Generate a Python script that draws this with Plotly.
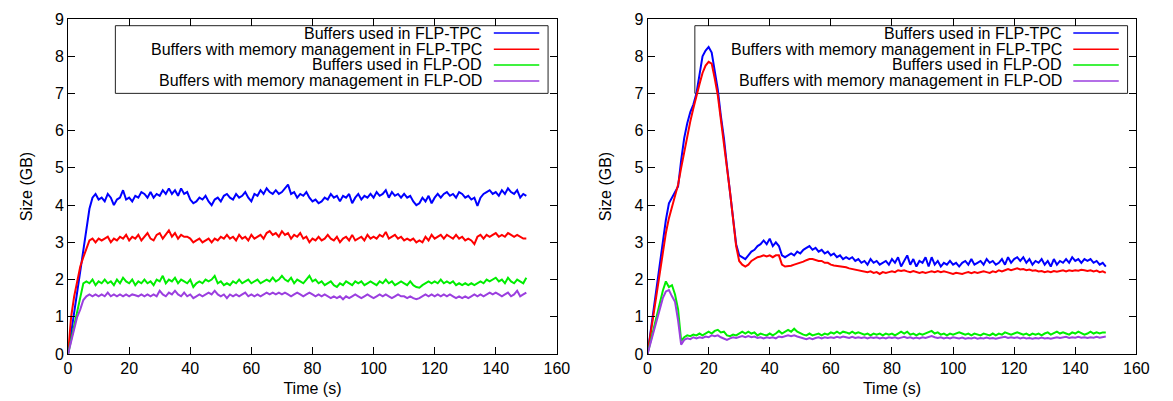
import plotly.graph_objects as go

# Sampling instants (s)
time_s = list(range(0, 151))

series_names = [
    "Buffers used in FLP-TPC",
    "Buffers with memory management in FLP-TPC",
    "Buffers used in FLP-OD",
    "Buffers with memory management in FLP-OD",
]
series_colors = ["#0000ff", "#ff0000", "#00ee00", "#9b3fdf"]

# ---- Left panel: buffer size (GB) ----
left_tpc_used = [
    0, 0.55, 1.1, 1.65, 2.2, 2.75, 3.35, 3.9, 4.2, 4.3,
    4.15, 4.2, 4.1, 4.3, 4.2, 4.0, 4.15, 4.2, 4.4, 4.15,
    4.2, 4.1, 4.25, 4.2, 4.35, 4.3, 4.2, 4.35, 4.2, 4.3,
    4.25, 4.4, 4.3, 4.45, 4.3, 4.4, 4.25, 4.45, 4.3, 4.35,
    4.15, 4.05, 4.1, 4.2, 4.15, 4.25, 4.1, 4.0, 4.15, 4.2,
    4.1, 4.25, 4.3, 4.2, 4.15, 4.3, 4.2, 4.25, 4.35, 4.2,
    4.1, 4.3, 4.25, 4.4, 4.3, 4.45, 4.35, 4.3, 4.4, 4.3,
    4.35, 4.45, 4.55, 4.3, 4.35, 4.2, 4.3, 4.25, 4.35, 4.2,
    4.1, 4.15, 4.05, 4.1, 4.2, 4.15, 4.3, 4.2, 4.25, 4.1,
    4.25, 4.2, 4.3, 4.05, 4.2, 4.3, 4.15, 4.25, 4.2, 4.3,
    4.2, 4.35, 4.25, 4.3, 4.4, 4.2, 4.35, 4.25, 4.3, 4.2,
    4.3, 4.2, 4.25, 4.1, 4.0, 4.05, 4.2, 4.1, 4.25, 4.05,
    4.2, 4.3, 4.2, 4.3, 4.35, 4.25, 4.3, 4.2, 4.35, 4.3,
    4.2, 4.25, 4.15, 4.2, 3.98, 4.2, 4.3, 4.35, 4.4, 4.3,
    4.35, 4.25, 4.4, 4.3, 4.45, 4.35, 4.3, 4.4, 4.2, 4.3,
    4.25,
]
left_tpc_mm = [
    0, 1.0, 1.55, 2.0, 2.35, 2.6, 2.85, 3.05, 3.1, 3.0,
    3.1, 3.05, 3.1, 3.15, 3.0, 3.1, 3.05, 3.15, 3.1, 3.2,
    3.05, 3.15, 3.1, 3.2, 3.05, 3.15, 3.25, 3.1, 3.05, 3.2,
    3.25, 3.1, 3.2, 3.32, 3.15, 3.25, 3.1, 3.2, 3.15, 3.15,
    3.1, 3.0, 3.05, 3.1, 3.0, 3.05, 3.1, 3.0, 3.1, 3.05,
    3.15, 3.1, 3.2, 3.1, 3.15, 3.05, 3.2, 3.1, 3.15, 3.05,
    3.2, 3.1, 3.15, 3.2, 3.1, 3.25, 3.3, 3.2, 3.25, 3.15,
    3.3, 3.2, 3.25, 3.1, 3.2, 3.15, 3.25, 3.1, 3.15, 3.0,
    3.1, 3.05, 3.15, 3.05, 3.1, 3.2, 3.1, 3.05, 3.15, 3.0,
    3.1, 3.15, 3.05, 3.2, 3.05, 3.1, 3.15, 3.05, 3.2, 3.1,
    3.15, 3.1, 3.2, 3.15, 3.28, 3.1, 3.15, 3.2, 3.1, 3.15,
    3.05, 3.1, 3.05, 3.1, 3.0, 3.05, 3.0, 3.15, 3.05, 3.2,
    3.1, 3.15, 3.2, 3.1, 3.2, 3.15, 3.1, 3.2, 3.1, 3.15,
    3.05, 3.1, 3.05, 2.95, 3.15, 3.2, 3.1, 3.2, 3.15, 3.2,
    3.25, 3.15, 3.2, 3.15, 3.25, 3.2, 3.15, 3.2, 3.15, 3.1,
    3.1,
]
left_od_used = [
    0, 0.4, 0.8, 1.2, 1.55, 1.9, 1.95, 1.9, 2.0, 1.85,
    1.95, 1.9, 2.0, 1.9, 1.95, 1.85, 2.0, 1.9, 2.05, 1.95,
    1.9, 2.0, 1.85, 1.95, 1.9, 2.0, 1.9, 1.95, 1.85, 2.0,
    1.95, 2.1, 1.9, 2.0, 1.95, 2.05, 1.9, 2.0, 1.95, 1.9,
    2.0, 1.8, 1.9, 1.95, 1.9, 2.0, 1.95, 2.0, 2.1, 1.9,
    1.95, 1.85, 1.9, 1.85, 1.95, 1.9, 2.0, 1.9, 1.95, 2.0,
    1.9, 1.95, 2.0, 1.9, 1.95, 2.0, 1.95, 2.05, 1.95, 2.0,
    2.1, 2.0, 1.95, 2.05, 1.9, 2.0, 1.95, 1.9, 2.0, 2.1,
    1.95, 2.0, 1.9, 1.95, 1.85, 1.9, 1.95, 1.85, 1.8, 1.9,
    1.85, 1.95, 1.9, 1.85, 1.95, 1.9, 1.95, 1.85, 1.9, 1.95,
    1.9, 1.85, 1.95, 1.9, 2.0, 1.9, 1.95, 1.85, 1.9, 1.95,
    1.9, 1.85, 1.95, 1.85, 1.8, 1.78, 1.85, 1.9, 1.95, 1.9,
    1.95, 1.9, 2.0, 1.9, 1.95, 1.9, 1.95, 1.85, 1.9, 1.85,
    1.9, 1.85, 1.9, 1.85, 1.9, 1.95, 1.9, 2.0, 1.95, 2.0,
    2.05, 1.95, 2.0, 1.9, 2.05, 1.95, 1.9, 2.0, 1.95, 1.9,
    2.05,
]
left_od_mm = [
    0, 0.35, 0.7, 1.0, 1.2, 1.45, 1.55, 1.6, 1.55, 1.6,
    1.55, 1.6, 1.55, 1.65, 1.55, 1.6, 1.55, 1.6, 1.55, 1.6,
    1.55, 1.6, 1.58, 1.55, 1.6, 1.55, 1.6, 1.55, 1.6, 1.55,
    1.7, 1.6, 1.55, 1.65, 1.6, 1.7, 1.6, 1.55, 1.65, 1.55,
    1.6, 1.5, 1.55, 1.6, 1.55, 1.6, 1.65, 1.6, 1.7, 1.6,
    1.55, 1.6, 1.5, 1.6, 1.55, 1.6, 1.55, 1.6, 1.65, 1.55,
    1.6, 1.55, 1.6, 1.55, 1.6, 1.65, 1.6, 1.65, 1.6, 1.65,
    1.6, 1.65, 1.6, 1.55, 1.6, 1.65, 1.6, 1.55, 1.6, 1.65,
    1.6, 1.55, 1.6, 1.55, 1.6, 1.55, 1.5, 1.55, 1.5, 1.55,
    1.47, 1.55, 1.5, 1.55, 1.6, 1.55, 1.5, 1.55, 1.6, 1.55,
    1.5, 1.55, 1.6, 1.55, 1.6, 1.55, 1.5, 1.55, 1.6, 1.55,
    1.55, 1.5, 1.55, 1.5, 1.47, 1.5, 1.55, 1.6, 1.55, 1.6,
    1.55, 1.6, 1.55, 1.6, 1.55, 1.6, 1.55, 1.5, 1.55, 1.5,
    1.55, 1.5, 1.55, 1.6, 1.55, 1.6, 1.55, 1.6, 1.65, 1.6,
    1.65, 1.6, 1.55, 1.6, 1.65, 1.55, 1.6, 1.7, 1.55, 1.6,
    1.65,
]

# ---- Right panel: buffer size (GB) ----
right_tpc_used = [
    0, 0.6, 1.2, 1.8, 2.4, 3.0, 3.6, 4.05, 4.2, 4.35,
    4.5, 5.2, 5.8, 6.2, 6.5, 6.7, 7.0, 7.5, 8.0, 8.15,
    8.25, 8.1, 7.6, 7.1, 6.4, 5.8, 5.05, 4.4, 3.7, 2.95,
    2.65, 2.6, 2.55, 2.65, 2.75, 2.8, 2.9, 2.95, 3.05, 2.95,
    3.1, 2.9, 3.0, 2.9, 2.65, 2.6, 2.65, 2.7, 2.65, 2.75,
    2.7, 2.8, 2.85, 2.9, 2.8, 2.85, 2.75, 2.8, 2.7, 2.75,
    2.65, 2.7, 2.6, 2.65, 2.55, 2.6, 2.55, 2.6, 2.5, 2.55,
    2.45, 2.5, 2.4, 2.55, 2.45, 2.5, 2.4, 2.45, 2.5, 2.4,
    2.55, 2.45, 2.6, 2.35, 2.5, 2.65, 2.4, 2.55, 2.35, 2.5,
    2.45, 2.6, 2.35, 2.6, 2.4, 2.5, 2.35, 2.45, 2.4, 2.5,
    2.4, 2.45, 2.35, 2.45, 2.5, 2.4, 2.55, 2.4, 2.45, 2.5,
    2.4, 2.55, 2.45, 2.5, 2.4, 2.45, 2.55, 2.4, 2.6, 2.45,
    2.55, 2.6, 2.5, 2.6, 2.45, 2.55, 2.4, 2.5, 2.45, 2.55,
    2.4, 2.5, 2.35, 2.55, 2.4, 2.5, 2.45, 2.55, 2.45, 2.6,
    2.5, 2.55, 2.45, 2.55, 2.5, 2.55, 2.45, 2.5, 2.4, 2.45,
    2.35,
]
right_tpc_mm = [
    0, 0.55, 1.1, 1.65, 2.25, 2.8, 3.25, 3.65, 3.95, 4.2,
    4.55, 5.0, 5.4, 5.9, 6.25, 6.6, 6.95, 7.25, 7.55, 7.75,
    7.85, 7.8, 7.4, 6.95, 6.3, 5.7, 5.0, 4.35, 3.65, 2.9,
    2.5, 2.4, 2.35, 2.4, 2.5, 2.55, 2.6, 2.62, 2.65, 2.62,
    2.65, 2.6, 2.65, 2.65, 2.4, 2.35, 2.35, 2.37, 2.4, 2.42,
    2.45, 2.48, 2.52, 2.55, 2.55, 2.52, 2.5, 2.5, 2.45, 2.45,
    2.4, 2.38, 2.37, 2.35, 2.35, 2.33, 2.3, 2.28, 2.27, 2.25,
    2.23, 2.22, 2.2, 2.22, 2.18, 2.2, 2.15, 2.2, 2.18, 2.2,
    2.22, 2.2, 2.25, 2.23, 2.25, 2.22, 2.2, 2.23, 2.2, 2.18,
    2.2, 2.18, 2.2, 2.22, 2.2, 2.23, 2.2, 2.22, 2.2, 2.18,
    2.15, 2.18, 2.17, 2.15, 2.18, 2.2, 2.17, 2.2, 2.18, 2.2,
    2.22, 2.2, 2.18, 2.22, 2.2, 2.25, 2.22, 2.25, 2.28, 2.25,
    2.28, 2.3, 2.27, 2.28, 2.25, 2.27, 2.24, 2.25, 2.22, 2.23,
    2.2, 2.22, 2.2, 2.23, 2.21, 2.23, 2.25, 2.22, 2.25, 2.23,
    2.25, 2.24, 2.26, 2.25, 2.23, 2.25, 2.22, 2.24, 2.2, 2.22,
    2.18,
]
right_od_used = [
    0, 0.35, 0.7, 1.05, 1.4, 1.7, 1.95, 1.8, 1.85, 1.6,
    1.2, 0.35, 0.45, 0.5, 0.48, 0.52, 0.5, 0.55, 0.5, 0.55,
    0.6, 0.55, 0.62, 0.65, 0.58, 0.6, 0.5, 0.48, 0.52, 0.5,
    0.55, 0.6, 0.55, 0.6, 0.55, 0.58, 0.5, 0.55, 0.52, 0.5,
    0.55, 0.5, 0.55, 0.62, 0.55, 0.6, 0.65, 0.6, 0.68, 0.6,
    0.55, 0.52, 0.5, 0.55, 0.5, 0.52, 0.55, 0.5, 0.55, 0.52,
    0.58, 0.55, 0.6, 0.55, 0.6, 0.58, 0.55, 0.6, 0.55, 0.58,
    0.55, 0.52, 0.55, 0.5, 0.55, 0.52, 0.55, 0.5, 0.55, 0.52,
    0.55, 0.5, 0.55, 0.6, 0.55, 0.6, 0.52, 0.55, 0.5, 0.55,
    0.52, 0.55, 0.58, 0.62, 0.55, 0.58, 0.52, 0.55, 0.5, 0.55,
    0.52, 0.55, 0.58, 0.55, 0.52, 0.55, 0.5, 0.55, 0.52, 0.5,
    0.55, 0.52, 0.5, 0.55, 0.5, 0.55, 0.52, 0.58, 0.55, 0.52,
    0.55, 0.58, 0.55, 0.52, 0.55, 0.5, 0.55, 0.52, 0.55, 0.5,
    0.55, 0.58, 0.52, 0.55, 0.6, 0.55, 0.58, 0.55, 0.52, 0.58,
    0.55, 0.6, 0.55, 0.52, 0.55, 0.6, 0.55, 0.58, 0.55, 0.58,
    0.58,
]
right_od_mm = [
    0, 0.3, 0.65, 0.95, 1.25, 1.5, 1.68, 1.72, 1.55, 1.4,
    0.9, 0.25, 0.38, 0.42, 0.4, 0.45, 0.42, 0.45, 0.43, 0.47,
    0.45, 0.5, 0.48, 0.5, 0.45, 0.42, 0.38, 0.42, 0.45, 0.43,
    0.45, 0.48, 0.45, 0.48, 0.45, 0.47, 0.43, 0.45, 0.42, 0.45,
    0.43, 0.45, 0.42, 0.47, 0.45, 0.48, 0.5, 0.48, 0.5, 0.47,
    0.45, 0.42, 0.4, 0.43, 0.4, 0.43, 0.45, 0.42, 0.45, 0.43,
    0.45, 0.43, 0.46, 0.44, 0.47, 0.45, 0.43, 0.46, 0.43, 0.45,
    0.43, 0.45, 0.42, 0.45, 0.43, 0.45, 0.42, 0.44, 0.42, 0.45,
    0.43, 0.45, 0.42, 0.44, 0.46, 0.43, 0.45, 0.42, 0.44, 0.42,
    0.45, 0.43, 0.46, 0.48, 0.45, 0.43, 0.45, 0.42, 0.44, 0.42,
    0.45, 0.43, 0.42, 0.44, 0.41, 0.43, 0.42, 0.44, 0.41, 0.43,
    0.42, 0.44, 0.42, 0.43, 0.41, 0.43, 0.44, 0.46, 0.43, 0.45,
    0.43, 0.45, 0.42, 0.44, 0.42, 0.43, 0.41, 0.43, 0.42, 0.44,
    0.42, 0.43, 0.41, 0.43, 0.45, 0.43, 0.44, 0.46, 0.43, 0.45,
    0.44, 0.46, 0.44, 0.45, 0.43, 0.45, 0.44, 0.46, 0.44, 0.45,
    0.47,
]

x_ticks = [0, 20, 40, 60, 80, 100, 120, 140, 160]
y_ticks = [0, 1, 2, 3, 4, 5, 6, 7, 8, 9]

FONT = "Liberation Sans, Arial, Helvetica, sans-serif"
FS = 16
W, H = 1173, 401
panels = [
    ("x", "y", [65 / W, 561 / W], [left_tpc_used, left_tpc_mm, left_od_used, left_od_mm]),
    ("x2", "y2", [653 / W, 1149 / W], [right_tpc_used, right_tpc_mm, right_od_used, right_od_mm]),
]

fig = go.Figure()
shapes, annotations = [], []

for xa, ya, dom, data in panels:
    for name, color, values in zip(series_names, series_colors, data):
        fig.add_trace(go.Scatter(
            x=time_s, y=values, mode="lines", name=name, xaxis=xa, yaxis=ya,
            line=dict(color=color, width=2), showlegend=False,
        ))

    # key box in the upper right of each panel
    xref, yref = f"{xa} domain", f"{ya} domain"
    shapes.append(dict(type="rect", xref=xref, yref=yref, x0=0.0968, x1=0.982,
                       y0=0.778, y1=0.98, line=dict(color="#222222", width=1),
                       fillcolor="white", layer="below"))
    row_y = [0.958, 0.91, 0.863, 0.815]
    for name, color, ry in zip(series_names, series_colors, row_y):
        annotations.append(dict(xref=xref, yref=yref, x=0.851, y=ry, text=name,
                                showarrow=False, xanchor="right", yanchor="middle",
                                font=dict(family=FONT, size=FS, color="black")))
        shapes.append(dict(type="line", xref=xref, yref=yref, x0=0.871, x1=0.964,
                           y0=ry, y1=ry, line=dict(color=color, width=1.5)))

axis_common = dict(
    range=[0, 160], tickvals=x_ticks, ticks="inside", ticklen=7, tickcolor="black",
    showline=True, linecolor="black", linewidth=1, mirror="allticks",
    showgrid=False, zeroline=False,
    tickfont=dict(family=FONT, size=FS, color="black"),
    title=dict(text="Time (s)", font=dict(family=FONT, size=FS, color="black"), standoff=6),
)
yaxis_common = dict(
    range=[0, 9], tickvals=y_ticks, ticks="inside", ticklen=7, tickcolor="black",
    showline=True, linecolor="black", linewidth=1, mirror="allticks",
    showgrid=False, zeroline=False,
    tickfont=dict(family=FONT, size=FS, color="black"),
    title=dict(text="Size (GB)", font=dict(family=FONT, size=FS, color="black"), standoff=18),
)

fig.update_layout(
    width=W, height=H,
    margin=dict(l=0, r=0, t=19, b=47),
    paper_bgcolor="white", plot_bgcolor="white",
    xaxis=dict(domain=panels[0][2], anchor="y", **axis_common),
    yaxis=dict(domain=[0, 1], anchor="x", **yaxis_common),
    xaxis2=dict(domain=panels[1][2], anchor="y2", **axis_common),
    yaxis2=dict(domain=[0, 1], anchor="x2", **yaxis_common),
    shapes=shapes, annotations=annotations,
    showlegend=False,
)

fig.write_html("out.html")
